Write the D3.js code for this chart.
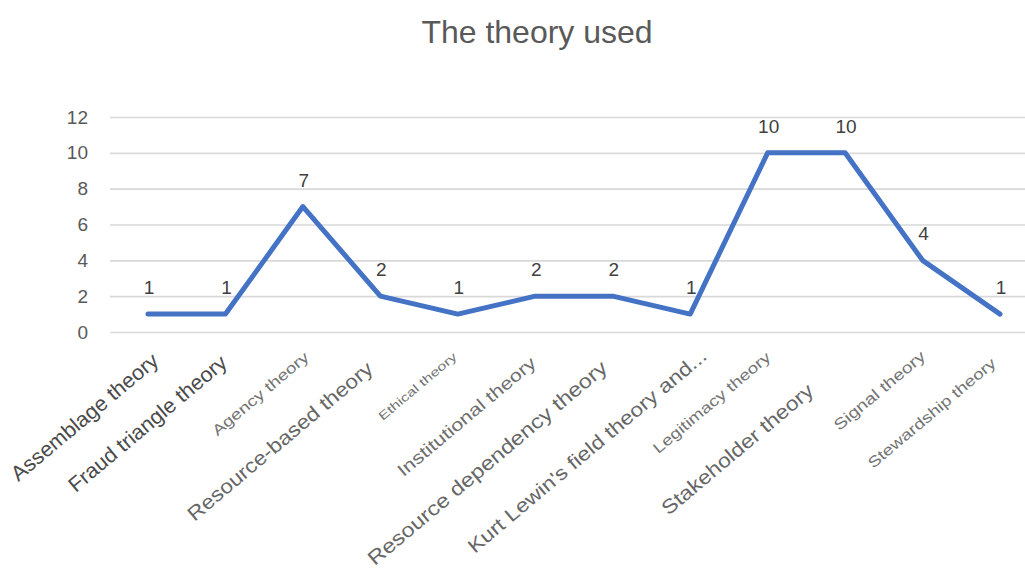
<!DOCTYPE html>
<html>
<head>
<meta charset="utf-8">
<script src="https://cdn.jsdelivr.net/npm/d3@7"></script>
<style>
  html, body { margin: 0; padding: 0; background: #ffffff; }
  svg { display: block; }
</style>
</head>
<body>
<script>
// Number of studies using each theory
const theories = [
  "Assemblage theory",
  "Fraud triangle theory",
  "Agency theory",
  "Resource-based theory",
  "Ethical theory",
  "Institutional theory",
  "Resource dependency theory",
  "Kurt Lewin's field theory and...",
  "Legitimacy theory",
  "Stakeholder theory",
  "Signal theory",
  "Stewardship theory"
];
const counts = [1, 1, 7, 2, 1, 2, 2, 1, 10, 10, 4, 1];
const yTicks = [0, 2, 4, 6, 8, 10, 12];
const chartTitle = "The theory used";

const W = 1025, H = 572;
const plot = { left: 110, right: 1025, top: 117, bottom: 332 };

// Per-label typography for the rotated category labels:
// size = font size, sx = horizontal stretch, dx = offset of the label end from the
// category centre, y = baseline end, fill = text colour
const labelStyle = {
  "Assemblage theory":                { size: 21,   sx: 1.03, dx: 12,  y: 363, fill: "#4a4a4a" },
  "Fraud triangle theory":            { size: 21,   sx: 1.03, dx: 3,   y: 365, fill: "#4a4a4a" },
  "Agency theory":                    { size: 15,   sx: 1.26, dx: 7,   y: 359, fill: "#737373" },
  "Resource-based theory":            { size: 20,   sx: 1.13, dx: -6,  y: 371, fill: "#666666" },
  "Ethical theory":                   { size: 12,   sx: 1.35, dx: 0,   y: 358, fill: "#737373" },
  "Institutional theory":             { size: 17.5, sx: 1.23, dx: 2,   y: 365, fill: "#6e6e6e" },
  "Resource dependency theory":       { size: 20,   sx: 1.17, dx: -4,  y: 370, fill: "#666666" },
  "Kurt Lewin's field theory and...": { size: 19.5, sx: 1.17, dx: 18,  y: 358, fill: "#666666" },
  "Legitimacy theory":                { size: 15,   sx: 1.26, dx: 4,   y: 359, fill: "#737373" },
  "Stakeholder theory":               { size: 20,   sx: 1.14, dx: -30, y: 393, fill: "#666666" },
  "Signal theory":                    { size: 15.5, sx: 1.26, dx: 4,   y: 358, fill: "#737373" },
  "Stewardship theory":               { size: 15,   sx: 1.26, dx: -3,  y: 365, fill: "#737373" }
};
const labelAngle = -40;

const svg = d3.select("body").append("svg")
  .attr("width", W).attr("height", H)
  .attr("viewBox", `0 0 ${W} ${H}`)
  .style("font-family", "'Liberation Sans', Arial, sans-serif");

const x = d3.scalePoint()
  .domain(theories)
  .range([148, 1000]);

const y = d3.scaleLinear()
  .domain([0, 12])
  .range([plot.bottom, plot.top]);

// Title
svg.append("text")
  .attr("x", 537).attr("y", 43)
  .attr("text-anchor", "middle")
  .attr("fill", "#595959")
  .style("font-size", "32px")
  .text(chartTitle);

// Horizontal gridlines + value axis labels
const yAxis = d3.axisLeft(y)
  .tickValues(yTicks)
  .tickSize(-(plot.right - plot.left))
  .tickPadding(22)
  .tickFormat(d3.format("d"));

const gy = svg.append("g")
  .attr("transform", `translate(${plot.left},0)`)
  .call(yAxis);
gy.select(".domain").remove();
gy.selectAll(".tick line")
  .attr("stroke", "#d9d9d9")
  .attr("stroke-width", 1.6);
gy.selectAll(".tick text")
  .attr("fill", "#595959")
  .style("font-size", "19px")
  .style("font-family", "'Liberation Sans', Arial, sans-serif");

// Series line
const line = d3.line()
  .x((d, i) => x(theories[i]))
  .y(d => y(d));

svg.append("path")
  .datum(counts)
  .attr("fill", "none")
  .attr("stroke", "#4472c4")
  .attr("stroke-width", 5)
  .attr("stroke-linejoin", "round")
  .attr("stroke-linecap", "round")
  .attr("d", line);

// Value labels above each point
svg.append("g")
  .selectAll("text")
  .data(counts)
  .join("text")
  .attr("x", (d, i) => x(theories[i]) + 1)
  .attr("y", d => y(d) - 20)
  .attr("text-anchor", "middle")
  .attr("fill", "#404040")
  .style("font-size", "19px")
  .text(d => d);

// Rotated category labels
svg.append("g")
  .selectAll("text")
  .data(theories)
  .join("text")
  .attr("transform", d => {
    const s = labelStyle[d];
    return `translate(${x(d) + s.dx},${s.y}) rotate(${labelAngle}) scale(${s.sx},1)`;
  })
  .attr("text-anchor", "end")
  .attr("fill", d => labelStyle[d].fill)
  .style("font-size", d => labelStyle[d].size + "px")
  .text(d => d);
</script>
</body>
</html>
